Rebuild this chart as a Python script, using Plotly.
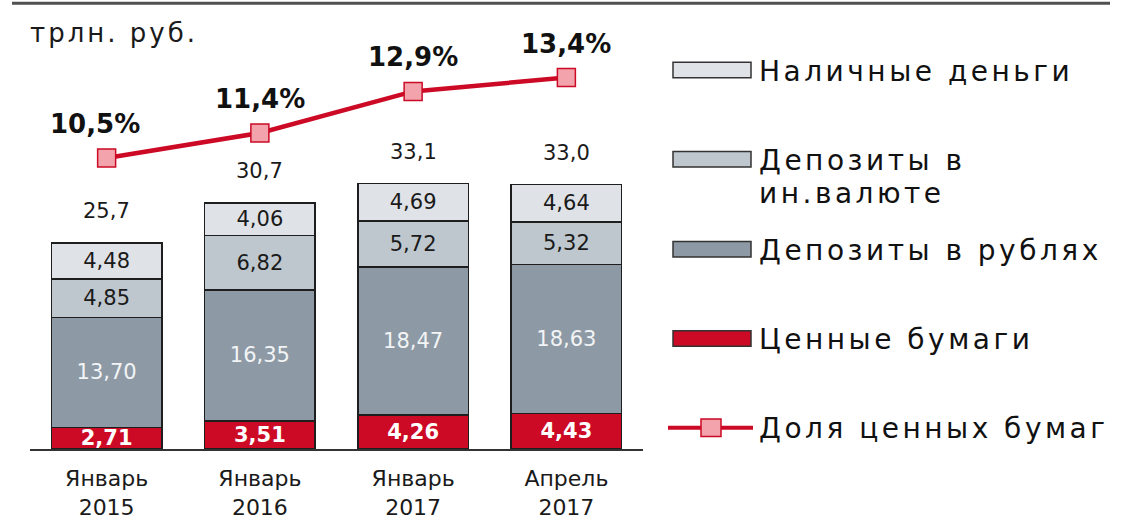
import plotly.graph_objects as go

categories = ["Январь<br>2015", "Январь<br>2016", "Январь<br>2017", "Апрель<br>2017"]
securities = [2.71, 3.51, 4.26, 4.43]
dep_rub = [13.70, 16.35, 18.47, 18.63]
dep_fx = [4.85, 6.82, 5.72, 5.32]
cash = [4.48, 4.06, 4.69, 4.64]
share_pct = [10.5, 11.4, 12.9, 13.4]

names = ["Ценные бумаги", "Депозиты в рублях", "Депозиты в ин.валюте", "Наличные деньги", "Доля ценных бумаг"]

FONT = "DejaVu Sans"
RED = "#cc0a25"
C_CASH = "#dfe2e6"
C_FX = "#bec7ce"
C_RUB = "#8d9aa5"
OUT = "#1e1e1e"

W, H = 1122, 532
ML, MR, MT, MB = 30, 479, 40, 70
PW, PH = W - ML - MR, H - MT - MB


def fmt(v, d=2):
    return f"{v:.{d}f}".replace(".", ",")


def px(x):
    return (x - ML) / PW


def py(y):
    return (H - MB - y) / PH


def spaced(s, ls):
    return '<span style="letter-spacing:%spx">%s</span>' % (ls, s)


fig = go.Figure()

series = [
    (securities, RED, "white", True),
    (dep_rub, C_RUB, "#f2f4f6", False),
    (dep_fx, C_FX, "#1a1a1a", False),
    (cash, C_CASH, "#1a1a1a", False),
]
for (vals, col, tcol, bold), nm in zip(series, names):
    fig.add_trace(go.Bar(
        x=categories, y=vals, name=nm,
        marker=dict(color=col, line=dict(color=OUT, width=1.5)),
        text=[("<b>%s</b>" % fmt(v)) if bold else fmt(v) for v in vals],
        textposition="inside", insidetextanchor="middle", constraintext="none",
        textfont=dict(family=FONT, size=21, color=tcol),
        width=0.72, showlegend=False, hoverinfo="skip",
    ))

fig.add_trace(go.Scatter(
    x=categories, y=share_pct, name=names[4], yaxis="y2",
    mode="lines+markers",
    line=dict(color=RED, width=4.5),
    marker=dict(symbol="square", size=18, color="#f2a3ac", line=dict(color=RED, width=1.5)),
    showlegend=False, hoverinfo="skip",
))

totals = [a + b + c + d for a, b, c, d in zip(securities, dep_rub, dep_fx, cash)]
annotations = []
for cat, t in zip(categories, totals):
    annotations.append(dict(
        x=cat, y=t, xref="x", yref="y", text=fmt(t, 1), showarrow=False,
        yanchor="bottom", yshift=18, font=dict(family=FONT, size=21, color="#1a1a1a"),
    ))
for i, (cat, p) in enumerate(zip(categories, share_pct)):
    annotations.append(dict(
        x=cat, y=p, xref="x", yref="y2", text="<b>%s%%</b>" % fmt(p, 1), showarrow=False,
        yanchor="bottom", yshift=17, xshift=-12 if i == 0 else 0,
        font=dict(family=FONT, size=26, color="#111111"),
    ))

annotations.append(dict(
    x=px(28), y=py(33), xref="paper", yref="paper", text=spaced("трлн. руб.", 3), showarrow=False,
    xanchor="left", yanchor="middle", font=dict(family=FONT, size=26, color="#1a1a1a"),
))

# legend (custom)
legend_items = [
    (["Наличные деньги"], C_CASH, 71),
    (["Депозиты в", "ин.валюте"], C_FX, 163),
    (["Депозиты в рублях"], C_RUB, 256),
    (["Ценные бумаги"], RED, 348),
]
LEG_FONT = dict(family=FONT, size=28, color="#111111")
for lines, col, yc in legend_items:
    fig.add_shape(
        type="rect", xref="paper", yref="paper",
        x0=px(673), x1=px(751), y0=py(yc - 8), y1=py(yc + 8),
        fillcolor=col, line=dict(color="#333333", width=1.5),
    )
    for k, ln in enumerate(lines):
        annotations.append(dict(
            x=px(757), y=py(yc + 1 + 34 * k), xref="paper", yref="paper", text=spaced(ln, 3.5),
            showarrow=False, xanchor="left", yanchor="middle", font=LEG_FONT,
        ))
yl = 440
fig.add_shape(type="line", xref="paper", yref="paper", x0=px(668), x1=px(753),
              y0=py(yl), y1=py(yl), line=dict(color=RED, width=4))
fig.add_shape(type="rect", xref="paper", yref="paper", x0=px(701), x1=px(721),
              y0=py(yl - 9), y1=py(yl + 9), fillcolor="#f2a3ac",
              line=dict(color=RED, width=1.5))
annotations.append(dict(
    x=px(757), y=py(yl + 1), xref="paper", yref="paper", text=spaced(names[4], 3.5), showarrow=False,
    xanchor="left", yanchor="middle", font=LEG_FONT,
))

# top rule
fig.add_shape(type="line", xref="paper", yref="paper", x0=px(12), x1=px(1110),
              y0=py(2), y1=py(2), line=dict(color="#505050", width=3))

fig.update_layout(
    width=W, height=H,
    margin=dict(l=ML, r=MR, t=MT, b=MB),
    paper_bgcolor="white", plot_bgcolor="white",
    barmode="stack",
    showlegend=False,
    xaxis=dict(
        range=[-0.5, 3.5], showgrid=False, zeroline=False,
        showline=True, linecolor="#333333", linewidth=2,
        ticks="", ticklabelstandoff=9,
        tickfont=dict(family=FONT, size=22, color="#1a1a1a"),
    ),
    yaxis=dict(range=[0, PH / 8.26], visible=False, showgrid=False),
    yaxis2=dict(range=[0, PH / 28.6], visible=False, overlaying="y", showgrid=False),
    annotations=annotations,
)

fig.write_html(
    "out.html",
    config={"displayModeBar": False},
    post_script=(
        "document.documentElement.style.cssText='margin:0;padding:0;height:532px;overflow:hidden';"
        "document.body.style.cssText='margin:0;padding:0;height:532px;overflow:hidden';"
    ),
)
